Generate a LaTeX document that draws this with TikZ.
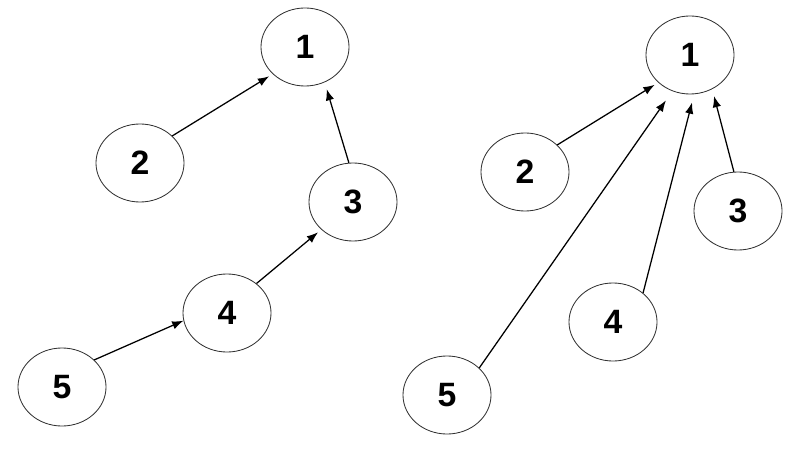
\documentclass[tikz,border=0pt]{standalone}
\usepackage{fontspec}
\setmainfont{Liberation Sans}
\usepackage{tikz}
\usetikzlibrary{positioning, arrows.meta, shapes.geometric}

\begin{document}
\begin{tikzpicture}[
    x=0.025cm, y=-0.025cm,
    vertex/.style={ellipse, draw=black!80, line width=0.6pt, minimum width=2.2cm,
                   minimum height=1.95cm, inner sep=0pt,
                   font=\fontsize{24}{28}\selectfont\bfseries},
    arrow/.style={-{Latex[length=8pt, width=6pt]}, line width=0.9pt}
]

    \useasboundingbox (0,0) rectangle (800,465);

    % Left tree (chain)
    \node[vertex] (a1) at (305, 47) {1};
    \node[vertex] (a2) at (140, 163) {2};
    \node[vertex] (a3) at (353, 202) {3};
    \node[vertex] (a4) at (227, 313) {4};
    \node[vertex] (a5) at (62, 387) {5};

    % Right tree (flat)
    \node[vertex] (b1) at (690, 55) {1};
    \node[vertex] (b2) at (525, 172) {2};
    \node[vertex] (b3) at (738, 211) {3};
    \node[vertex] (b4) at (613, 322) {4};
    \node[vertex] (b5) at (447, 395) {5};

    % Arrows, left
    \draw[arrow, shorten >=3pt] (a2.40) -- (a1.220);
    \draw[arrow, shorten >=5pt] (a3.96) -- (a1.299);
    \draw[arrow, shorten >=3pt] (a4.45) -- (a3.221);
    \draw[arrow] (a5.40) -- (a4.190);

    % Arrows, right
    \draw[arrow, shorten >=3pt] (b2.40) -- (b1.221);
    \draw[arrow, shorten >=8pt] (b5.40) -- (b1.244);
    \draw[arrow, shorten >=6pt] (b4.44) -- (b1.276);
    \draw[arrow, shorten >=5pt] (b3.96) -- (b1.303);

\end{tikzpicture}
\end{document}
